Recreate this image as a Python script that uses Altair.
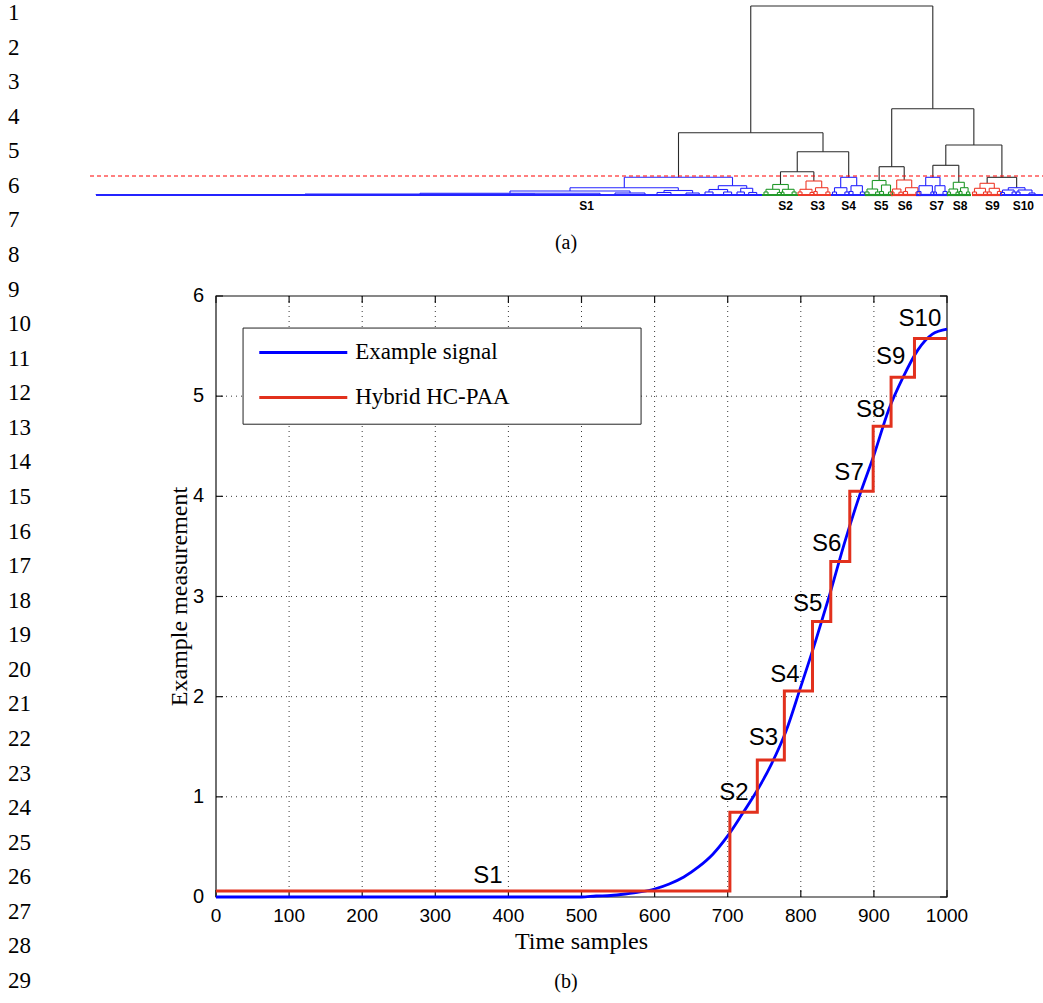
import altair as alt
import pandas as pd

# ---------------- data ----------------
line_numbers = list(range(1, 30))

# (b) example signal
signal_t = [0, 100, 200, 300, 400, 500, 520, 540, 560, 580, 600, 620, 640, 660, 680,
            700, 720, 740, 760, 780, 800, 820, 840, 860, 880, 900, 920, 940, 960, 980, 1000]
signal_v = [0.0, 0.0, 0.0, 0.0, 0.0, 0.0, 0.01, 0.015, 0.03, 0.05, 0.08, 0.13, 0.2, 0.3, 0.43,
            0.61, 0.83, 1.06, 1.33, 1.66, 2.1, 2.55, 3.03, 3.54, 4.0, 4.41, 4.86, 5.19, 5.46, 5.62, 5.67]

# (b) hybrid HC-PAA segments
paa_edges = [0, 703, 740.5, 777.5, 816, 841, 867, 899, 923.5, 955.5, 1000]
paa_levels = [0.06, 0.845, 1.367, 2.056, 2.75, 3.35, 4.05, 4.70, 5.19, 5.575]

segment_names = ["S1", "S2", "S3", "S4", "S5", "S6", "S7", "S8", "S9", "S10"]
segment_label_t = [372, 708.6, 748.7, 778.4, 809.4, 835.4, 866, 895.6, 923, 963]
segment_label_v = [0.21, 1.035, 1.584, 2.215, 2.93, 3.52, 4.235, 4.86, 5.39, 5.775]

x_ticks = [0, 100, 200, 300, 400, 500, 600, 700, 800, 900, 1000]
y_ticks = [0, 1, 2, 3, 4, 5, 6]
legend_names = ["Example signal", "Hybrid HC-PAA"]

# (a) dendrogram: nodes as (left pos, right pos, merge height, left child height, right child height)
top_nodes = [
    (654.75, 836.8, 18.9, 6.23, 8.63),
    (582.5, 727.0, 6.23, 1.77, 4.33),
    (701.25, 752.7, 4.33, 2.33, 1.77),
    (684.5, 717.85, 2.33, 1.05, 1.40),
    (795.7, 877.85, 8.63, 2.83, 5.00),
    (783.15, 808.2, 2.83, 1.45, 1.50),
    (849.8, 905.9, 5.00, 2.97, 1.77),
    (836.85, 862.8, 2.97, 1.77, 1.27),
    (891.15, 920.65, 1.77, 1.17, 0.73),
]
s1_nodes = [
    (528.3, 636.5, 1.77, 0.73, 0.93), (474, 582.3, 0.73, 0.40, 0.45),
    (414, 534, 0.40, 0.17, 0.20), (324, 504, 0.17, 0.10, 0.0),
    (209, 439, 0.10, 0.05, 0.0), (0, 418, 0.05, 0.0, 0.0),
    (519, 549, 0.20, 0.0, 0.0), (568, 596.6, 0.45, 0.25, 0.20),
    (561, 575, 0.25, 0.0, 0.0), (590, 603.2, 0.20, 0.0, 0.0),
    (622.3, 650.7, 0.93, 0.55, 0.67), (613, 631.6, 0.55, 0.30, 0.30),
    (609, 617, 0.30, 0.0, 0.0), (627.6, 635.6, 0.30, 0.0, 0.0),
    (644.7, 656.7, 0.67, 0.30, 0.25), (641, 648.4, 0.30, 0.0, 0.0),
    (652.7, 660.7, 0.25, 0.0, 0.0),
]
s2_nodes = [
    (676.7, 692.3, 1.05, 0.57, 0.57), (670, 683.4, 0.57, 0.30, 0.25),
    (686.5, 698.1, 0.57, 0.28, 0.30), (668, 672, 0.30, 0, 0),
    (681.4, 685.4, 0.25, 0, 0), (685, 688, 0.28, 0, 0), (696.1, 700.1, 0.30, 0, 0),
]
s3_nodes = [
    (710, 725.7, 1.40, 0.57, 0.73), (704, 716, 0.57, 0.30, 0.25),
    (719.5, 731.9, 0.73, 0.35, 0.30), (702, 706, 0.30, 0, 0),
    (714, 718, 0.25, 0, 0), (717.8, 721.2, 0.35, 0, 0), (729.9, 733.9, 0.30, 0, 0),
]
s4_nodes = [
    (744.7, 760.7, 1.77, 0.73, 0.93), (738.5, 750.9, 0.73, 0.30, 0.30),
    (755, 766.4, 0.93, 0.35, 0.30), (736.5, 740.5, 0.30, 0, 0),
    (748.9, 752.9, 0.30, 0, 0), (753, 757, 0.35, 0, 0), (764.4, 768.4, 0.30, 0, 0),
]
s5_nodes = [
    (776.3, 790, 1.45, 0.60, 1.00), (771, 781.6, 0.60, 0.30, 0.30),
    (785.5, 794.5, 1.00, 0.35, 0.30), (769, 773, 0.30, 0, 0),
    (779.6, 783.6, 0.30, 0, 0), (783.5, 787.5, 0.35, 0, 0), (792.5, 796.5, 0.30, 0, 0),
]
s6_nodes = [
    (800.7, 815.7, 1.50, 0.60, 0.73), (796.5, 804.9, 0.60, 0.30, 0.28),
    (809.5, 821.9, 0.73, 0.35, 0.30), (795, 798, 0.30, 0, 0),
    (802.9, 806.9, 0.28, 0, 0), (807.5, 811.5, 0.35, 0, 0), (819.9, 823.9, 0.30, 0, 0),
]
s7_nodes = [
    (829.7, 844, 1.77, 0.93, 0.93), (823, 836.4, 0.93, 0.35, 0.30),
    (839, 849, 0.93, 0.30, 0.35), (821, 825, 0.35, 0, 0),
    (834.9, 837.9, 0.30, 0, 0), (837.6, 840.4, 0.30, 0, 0), (847, 851, 0.35, 0, 0),
]
s8_nodes = [
    (857.3, 868.3, 1.27, 0.60, 0.73), (853, 861.6, 0.60, 0.30, 0.28),
    (864.5, 872.1, 0.73, 0.35, 0.30), (851.5, 854.5, 0.30, 0, 0),
    (860, 863.2, 0.28, 0, 0), (863, 866, 0.35, 0, 0), (870.5, 873.7, 0.30, 0, 0),
]
s9_nodes = [
    (884, 898.3, 1.17, 0.67, 0.67), (878.5, 889.5, 0.67, 0.30, 0.30),
    (893.2, 903.4, 0.67, 0.30, 0.35), (876.5, 880.5, 0.30, 0, 0),
    (887.5, 891.5, 0.30, 0, 0), (891.2, 895.2, 0.30, 0, 0), (901.4, 905.4, 0.35, 0, 0),
]
s10_nodes = [
    (912.3, 929, 0.73, 0.50, 0.50), (906.5, 918.1, 0.50, 0.25, 0.30),
    (922, 936, 0.50, 0.30, 0.20), (904.5, 908.5, 0.25, 0, 0),
    (916.1, 920.1, 0.30, 0, 0), (920, 924, 0.30, 0, 0), (933, 939, 0.20, 0, 0),
]
cluster_leaf_from = [0, 666, 702, 735, 769, 795, 820, 851, 876, 904]
cluster_leaf_to = [668, 702, 735, 769, 797, 825, 852, 875, 906, 947]
cluster_label_pos = [490.7, 689.7, 721.7, 752.7, 785, 809, 840.7, 864, 896.3, 927.3]
cutoff_height = 1.9

# ---------------- styles ----------------
BLACK = "#2a2a2a"
DBLUE = "#2424ff"
DGREEN = "#22992a"
DRED = "#ee3b2b"
cluster_colors = [DBLUE, DGREEN, DRED, DBLUE, DGREEN, DRED, DBLUE, DGREEN, DRED, DBLUE]
SIG_BLUE = "#0000ff"
PAA_RED = "#e2311d"
SERIF = "Liberation Serif"
SANS = "Liberation Sans"

# scales (pixel ranges place each panel on the page)
MX = alt.Scale(domain=[x_ticks[0], x_ticks[-1]], range=[216, 947], nice=False, zero=False)
MY = alt.Scale(domain=[y_ticks[0], y_ticks[-1]], range=[897, 296], nice=False, zero=False)
DX = alt.Scale(domain=[0, 947], range=[96, 1043], nice=False, zero=False)
DY = alt.Scale(domain=[0, 18.9], range=[195, 6], nice=False, zero=False)
LY = alt.Scale(domain=[line_numbers[0], line_numbers[-1]], range=[13, 981], nice=False, zero=False)

layers = []

# ---- line numbers
ln_df = pd.DataFrame({"n": line_numbers, "label": [str(n) for n in line_numbers]})
layers.append(
    alt.Chart(ln_df).mark_text(align="left", baseline="middle", font=SERIF, fontSize=23, color="black")
    .encode(x=alt.value(8), y=alt.Y("n:Q", scale=LY, axis=None), text="label:N")
)

# ---- dendrogram
rows = []
groups = [(top_nodes, BLACK)] + list(zip(
    [s1_nodes, s2_nodes, s3_nodes, s4_nodes, s5_nodes, s6_nodes, s7_nodes, s8_nodes, s9_nodes, s10_nodes],
    cluster_colors))
for nodes, col in groups:
    for xl, xr, h, hl, hr in nodes:
        rows.append(dict(a=xl, b=xl, p=hl, q=h, c=col))
        rows.append(dict(a=xl, b=xr, p=h, q=h, c=col))
        rows.append(dict(a=xr, b=xr, p=hr, q=h, c=col))
dseg = pd.DataFrame(rows)

floor_df = pd.DataFrame({"a": cluster_leaf_from, "b": cluster_leaf_to, "p": [0.0] * 10, "c": cluster_colors})
layers.append(
    alt.Chart(floor_df).mark_rule(strokeWidth=2.2)
    .encode(x=alt.X("a:Q", scale=DX, axis=None), x2="b:Q",
            y=alt.Y("p:Q", scale=DY, axis=None), color=alt.Color("c:N", scale=None))
)
layers.append(
    alt.Chart(dseg).mark_rule(strokeWidth=1.1)
    .encode(x=alt.X("a:Q", scale=DX, axis=None), x2="b:Q",
            y=alt.Y("p:Q", scale=DY, axis=None), y2="q:Q",
            color=alt.Color("c:N", scale=None))
)
cut_df = pd.DataFrame({"a": [-6], "b": [947], "p": [cutoff_height]})
layers.append(
    alt.Chart(cut_df).mark_rule(color="#ff0000", strokeWidth=1.1, strokeDash=[4, 3])
    .encode(x=alt.X("a:Q", scale=DX, axis=None), x2="b:Q", y=alt.Y("p:Q", scale=DY, axis=None))
)
dlab_df = pd.DataFrame({"a": cluster_label_pos, "p": [-1.1] * 10, "s": segment_names})
layers.append(
    alt.Chart(dlab_df).mark_text(font=SANS, fontSize=12, fontWeight="bold", color="black",
                                 align="center", baseline="middle")
    .encode(x=alt.X("a:Q", scale=DX, axis=None), y=alt.Y("p:Q", scale=DY, axis=None), text="s:N")
)

# ---- captions
for s, py in zip(["(a)", "(b)"], [243, 982]):
    layers.append(
        alt.Chart(pd.DataFrame({"s": [s]})).mark_text(font=SERIF, fontSize=20, color="black",
                                                      align="center", baseline="middle")
        .encode(x=alt.value(566), y=alt.value(py), text="s:N")
    )

# ---- main plot: grid
vgrid = pd.DataFrame({"t": x_ticks[1:-1], "v0": y_ticks[0], "v1": y_ticks[-1]})
hgrid = pd.DataFrame({"v": y_ticks[1:-1], "t0": x_ticks[0], "t1": x_ticks[-1]})
GRID = dict(color="#222222", strokeWidth=1, strokeDash=[1, 4], opacity=0.9)
layers.append(
    alt.Chart(vgrid).mark_rule(**GRID)
    .encode(x=alt.X("t:Q", scale=MX, axis=None), y=alt.Y("v0:Q", scale=MY, axis=None), y2="v1:Q")
)
layers.append(
    alt.Chart(hgrid).mark_rule(**GRID)
    .encode(y=alt.Y("v:Q", scale=MY, axis=None), x=alt.X("t0:Q", scale=MX, axis=None), x2="t1:Q")
)

# ---- legend box (covers the grid)
leg_box = pd.DataFrame({"t0": [37], "t1": [581.5], "v0": [4.72], "v1": [5.68]})
layers.append(
    alt.Chart(leg_box).mark_rect(fill="white", stroke="#222222", strokeWidth=1)
    .encode(x=alt.X("t0:Q", scale=MX, axis=None), x2="t1:Q",
            y=alt.Y("v0:Q", scale=MY, axis=None), y2="v1:Q")
)

# ---- frame
frame_df = pd.DataFrame({"t0": [x_ticks[0]], "t1": [x_ticks[-1]], "v0": [y_ticks[0]], "v1": [y_ticks[-1]]})
layers.append(
    alt.Chart(frame_df).mark_rect(fillOpacity=0, stroke="#111111", strokeWidth=1.2)
    .encode(x=alt.X("t0:Q", scale=MX, axis=None), x2="t1:Q",
            y=alt.Y("v0:Q", scale=MY, axis=None), y2="v1:Q")
)

# ---- inward ticks on all four sides
TICK = dict(color="#111111", strokeWidth=1.2)
xt = pd.DataFrame({"t": x_ticks, "lo": y_ticks[0], "hi": y_ticks[-1]})
yt = pd.DataFrame({"v": y_ticks, "lo": x_ticks[0], "hi": x_ticks[-1]})
layers.append(alt.Chart(xt).mark_rule(y2Offset=-7, **TICK).encode(
    x=alt.X("t:Q", scale=MX, axis=None), y=alt.Y("lo:Q", scale=MY, axis=None), y2="lo:Q"))
layers.append(alt.Chart(xt).mark_rule(y2Offset=7, **TICK).encode(
    x=alt.X("t:Q", scale=MX, axis=None), y=alt.Y("hi:Q", scale=MY, axis=None), y2="hi:Q"))
layers.append(alt.Chart(yt).mark_rule(x2Offset=7, **TICK).encode(
    y=alt.Y("v:Q", scale=MY, axis=None), x=alt.X("lo:Q", scale=MX, axis=None), x2="lo:Q"))
layers.append(alt.Chart(yt).mark_rule(x2Offset=-7, **TICK).encode(
    y=alt.Y("v:Q", scale=MY, axis=None), x=alt.X("hi:Q", scale=MX, axis=None), x2="hi:Q"))

# ---- signal and PAA
sig_df = pd.DataFrame({"t": signal_t, "v": signal_v})
layers.append(
    alt.Chart(sig_df).mark_line(color=SIG_BLUE, strokeWidth=2.8, interpolate="monotone")
    .encode(x=alt.X("t:Q", scale=MX, axis=None), y=alt.Y("v:Q", scale=MY, axis=None))
)
paa_df = pd.DataFrame({"t": paa_edges, "v": paa_levels + [paa_levels[-1]]})
layers.append(
    alt.Chart(paa_df).mark_line(color=PAA_RED, strokeWidth=3, interpolate="step-after")
    .encode(x=alt.X("t:Q", scale=MX, axis=None), y=alt.Y("v:Q", scale=MY, axis=None))
)

# ---- legend entries
leg_lines = pd.DataFrame({"t0": [59.2, 59.2], "t1": [179.6, 179.6], "v": [5.436, 4.987],
                          "c": [SIG_BLUE, PAA_RED], "name": legend_names})
layers.append(
    alt.Chart(leg_lines).mark_rule(strokeWidth=3)
    .encode(x=alt.X("t0:Q", scale=MX, axis=None), x2="t1:Q",
            y=alt.Y("v:Q", scale=MY, axis=None), color=alt.Color("c:N", scale=None))
)
leg_text = pd.DataFrame({"t": [190.5, 190.5], "v": [5.436, 4.987], "name": legend_names})
layers.append(
    alt.Chart(leg_text).mark_text(font=SERIF, fontSize=23, color="black", align="left", baseline="middle")
    .encode(x=alt.X("t:Q", scale=MX, axis=None), y=alt.Y("v:Q", scale=MY, axis=None), text="name:N")
)

# ---- segment labels S1..S10
seg_df = pd.DataFrame({"t": segment_label_t, "v": segment_label_v, "s": segment_names})
layers.append(
    alt.Chart(seg_df).mark_text(font=SANS, fontSize=24, color="black", align="center", baseline="middle")
    .encode(x=alt.X("t:Q", scale=MX, axis=None), y=alt.Y("v:Q", scale=MY, axis=None), text="s:N")
)

# ---- tick labels
xl_df = pd.DataFrame({"t": x_ticks, "v": y_ticks[0], "s": [str(t) for t in x_ticks]})
layers.append(
    alt.Chart(xl_df).mark_text(font=SANS, fontSize=19, color="black", align="center", baseline="middle", dy=19)
    .encode(x=alt.X("t:Q", scale=MX, axis=None), y=alt.Y("v:Q", scale=MY, axis=None), text="s:N")
)
yl_df = pd.DataFrame({"v": y_ticks, "t": x_ticks[0], "s": [str(v) for v in y_ticks]})
layers.append(
    alt.Chart(yl_df).mark_text(font=SANS, fontSize=20, color="black", align="right", baseline="middle", dx=-12)
    .encode(x=alt.X("t:Q", scale=MX, axis=None), y=alt.Y("v:Q", scale=MY, axis=None), text="s:N")
)

# ---- axis titles
xt_df = pd.DataFrame({"t": [(x_ticks[0] + x_ticks[-1]) / 2], "s": ["Time samples"]})
layers.append(
    alt.Chart(xt_df).mark_text(font=SERIF, fontSize=24, color="black", align="center", baseline="middle")
    .encode(x=alt.X("t:Q", scale=MX, axis=None), y=alt.value(942), text="s:N")
)
yt_df = pd.DataFrame({"v": [(y_ticks[0] + y_ticks[-1]) / 2], "s": ["Example measurement"]})
layers.append(
    alt.Chart(yt_df).mark_text(font=SERIF, fontSize=24, color="black", align="center", baseline="middle", angle=270)
    .encode(y=alt.Y("v:Q", scale=MY, axis=None), x=alt.value(180), text="s:N")
)

chart = (
    alt.layer(*layers)
    .resolve_scale(x="independent", y="independent")
    .properties(width=1043, height=1003, autosize=alt.AutoSizeParams(type="none"), padding=0,
                background="white")
    .configure_view(stroke=None)
)

chart.save("out.html", embed_options={"renderer": "svg", "actions": False})
